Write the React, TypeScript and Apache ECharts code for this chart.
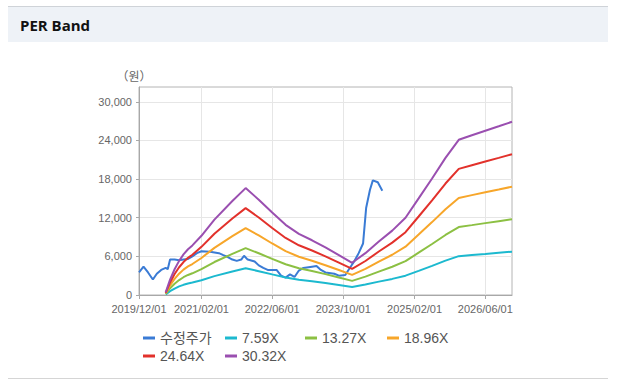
import React, { useEffect, useRef } from "react";
import * as echarts from "echarts";

// ---- data ----
const xTickLabels = ["2019/12/01", "2021/02/01", "2022/06/01", "2023/10/01", "2025/02/01", "2026/06/01"];
const xStart = "2019/12/01";
const xEnd = "2026/12/01";
const yTicks = [0, 6000, 12000, 18000, 24000, 30000];
const yMax = 32300;

const legendNames = ["수정주가", "7.59X", "13.27X", "18.96X", "24.64X", "30.32X"];
const seriesColors = ["#3a7bd5", "#1cb9cf", "#8cc043", "#f7a62a", "#e2312b", "#9a4fb0"];

const priceDates = [
  "2019/12/01", "2020/01/01", "2020/02/01", "2020/03/05", "2020/04/01", "2020/05/01", "2020/06/01", "2020/06/15",
  "2020/07/01", "2020/08/01", "2020/09/01", "2020/10/01", "2020/11/01", "2020/12/01", "2021/01/01", "2021/02/01",
  "2021/04/01", "2021/06/01", "2021/07/01", "2021/08/01", "2021/09/01", "2021/10/01", "2021/11/01", "2021/11/20",
  "2021/12/15", "2022/02/01", "2022/03/01", "2022/04/01", "2022/05/01", "2022/07/01", "2022/08/01", "2022/09/01",
  "2022/10/01", "2022/11/01", "2022/12/01", "2023/01/01", "2023/03/01", "2023/04/01", "2023/05/01", "2023/06/01",
  "2023/08/01", "2023/09/01", "2023/10/15", "2023/11/15", "2023/12/15", "2024/01/15", "2024/02/14", "2024/03/06",
  "2024/04/01", "2024/04/21", "2024/05/25", "2024/06/25",
];
const priceValues = [
  3500, 4400, 3500, 2400, 3300, 3900, 4200, 4000,
  5500, 5500, 5400, 5500, 5600, 6000, 6500, 6800,
  6700, 6500, 6200, 5900, 5500, 5300, 5500, 6100,
  5500, 5200, 4600, 4200, 3900, 3900, 3000, 2700,
  3200, 2800, 3800, 4200, 4400, 4500, 3900, 3500,
  3300, 3000, 3100, 4200, 5200, 6500, 8000, 13500,
  16300, 17800, 17500, 16200,
];

const bandDates = [
  "2020/06/01", "2020/07/01", "2020/08/01", "2020/09/01", "2020/10/01", "2020/11/01", "2020/12/01", "2021/02/01",
  "2021/05/01", "2021/09/01", "2021/12/01", "2022/03/01", "2022/06/01", "2022/09/01", "2022/12/01", "2023/03/01",
  "2023/06/01", "2023/09/01", "2023/12/01", "2024/03/01", "2024/06/01", "2024/09/01", "2024/12/01", "2025/03/01",
  "2025/06/01", "2025/09/01", "2025/12/01", "2026/03/01", "2026/06/01", "2026/09/01", "2026/12/01",
];
const band759 = [
  100, 600, 1000, 1330, 1580, 1780, 1930, 2300, 2930, 3650, 4150, 3700, 3200, 2730, 2380, 2130,
  1850, 1550, 1250, 1630, 2080, 2500, 3000, 3750, 4530, 5330, 6030, 6210, 6380, 6560, 6730,
];
const band1327 = [
  180, 1050, 1750, 2320, 2760, 3110, 3370, 4030, 5120, 6390, 7270, 6480, 5600, 4770, 4160, 3720,
  3240, 2710, 2190, 2850, 3630, 4380, 5250, 6570, 7920, 9320, 10550, 10850, 11160, 11470, 11770,
];
const band1896 = [
  250, 1500, 2500, 3310, 3940, 4440, 4810, 5750, 7320, 9130, 10380, 9250, 8000, 6820, 5940, 5320,
  4630, 3880, 3130, 4060, 5190, 6250, 7500, 9380, 11320, 13320, 15070, 15510, 15950, 16380, 16820,
];
const band2464 = [
  330, 1950, 3250, 4310, 5120, 5770, 6260, 7480, 9510, 11870, 13490, 12030, 10400, 8860, 7720, 6910,
  6010, 5040, 4060, 5280, 6750, 8130, 9750, 12190, 14710, 17310, 19590, 20150, 20720, 21290, 21860,
];
const band3032 = [
  400, 2400, 4000, 5300, 6300, 7100, 7700, 9200, 11700, 14600, 16600, 14800, 12800, 10900, 9500, 8500,
  7400, 6200, 5000, 6500, 8300, 10000, 12000, 15000, 18100, 21300, 24100, 24800, 25500, 26200, 26900,
];

// ---- helpers ----
function toTs(s: string): number {
  const [y, m, d] = s.split("/").map(Number);
  return new Date(y, m - 1, d).getTime();
}
function fmtDate(v: number): string {
  const d = new Date(v);
  const mm = String(d.getMonth() + 1).padStart(2, "0");
  const dd = String(d.getDate()).padStart(2, "0");
  return `${d.getFullYear()}/${mm}/${dd}`;
}
function pairs(dates: string[], vals: number[]) {
  return dates.map((d, i) => [toTs(d), vals[i]]);
}

const FONT = "'Liberation Sans', 'Noto Sans CJK KR', sans-serif";

export default function App() {
  const ref = useRef<HTMLDivElement>(null);
  useEffect(() => {
    if (!ref.current) return;
    const chart = echarts.init(ref.current, null, { renderer: "svg" });
    const xTicks = xTickLabels.map(toTs);
    const bandArrays = [band759, band1327, band1896, band2464, band3032];

    const series: any[] = [
      {
        name: legendNames[0],
        type: "line",
        data: pairs(priceDates, priceValues),
        showSymbol: false,
        symbol: "none",
        lineStyle: { width: 2, color: seriesColors[0] },
        itemStyle: { color: seriesColors[0] },
      },
      ...bandArrays.map((arr, i) => ({
        name: legendNames[i + 1],
        type: "line",
        data: pairs(bandDates, arr),
        showSymbol: false,
        symbol: "none",
        lineStyle: { width: 2, color: seriesColors[i + 1] },
        itemStyle: { color: seriesColors[i + 1] },
      })),
    ];

    const legendPos = [
      [143, 331],
      [225, 331],
      [305, 331],
      [387, 331],
      [143, 349],
      [225, 349],
    ];
    const legends = legendNames.map((n, i) => ({
      data: [n],
      left: legendPos[i][0],
      top: legendPos[i][1],
      padding: 0,
      icon: "rect",
      itemWidth: 12,
      itemHeight: 3,
      selectedMode: false,
      textStyle: { fontSize: 14, color: "#555", fontFamily: FONT },
    }));

    chart.setOption({
      animation: false,
      backgroundColor: "#ffffff",
      textStyle: { fontFamily: FONT },
      grid: {
        left: 139,
        top: 87,
        right: 109,
        bottom: 92,
        show: true,
        borderColor: "#b4b4b4",
        borderWidth: 1,
        outerBoundsMode: "none",
      },
      legend: legends,
      xAxis: {
        type: "value",
        min: toTs(xStart),
        max: toTs(xEnd),
        axisLine: { show: true, lineStyle: { color: "#a8a8a8" } },
        axisTick: { show: true, length: 4, customValues: xTicks, lineStyle: { color: "#a8a8a8" } },
        axisLabel: {
          customValues: xTicks,
          formatter: (v: number) => fmtDate(v),
          fontSize: 11,
          color: "#666",
          margin: 8,
          fontFamily: FONT,
        },
        splitLine: { show: true, lineStyle: { color: "#e6e6e6" } },
      },
      yAxis: {
        type: "value",
        min: 0,
        max: yMax,
        axisLine: { show: true, lineStyle: { color: "#a8a8a8" } },
        axisTick: { show: true, length: 3, customValues: yTicks, lineStyle: { color: "#a8a8a8" } },
        axisLabel: {
          customValues: yTicks,
          formatter: (v: number) => v.toLocaleString("en-US"),
          fontSize: 11,
          color: "#666",
          margin: 7,
          fontFamily: FONT,
        },
        splitLine: { show: true, lineStyle: { color: "#e6e6e6" } },
      },
      graphic: [
        { type: "rect", shape: { x: 8, y: 7, width: 600, height: 35 }, style: { fill: "#eef2f7" }, silent: true },
        { type: "line", shape: { x1: 8, y1: 6.5, x2: 608, y2: 6.5 }, style: { stroke: "#cfd3d8", lineWidth: 1 } },
        { type: "line", shape: { x1: 8, y1: 378.5, x2: 608, y2: 378.5 }, style: { stroke: "#d5d5d5", lineWidth: 1 } },
        {
          type: "text",
          x: 20,
          y: 25,
          style: {
            text: "PER Band",
            fontSize: 15,
            fontWeight: "bold",
            fill: "#111",
            fontFamily: "'Open Sans', 'Noto Sans', sans-serif",
            verticalAlign: "middle",
          },
        },
        {
          type: "text",
          x: 134,
          y: 75,
          style: {
            text: "（원）",
            fontSize: 12,
            fill: "#666",
            fontFamily: "'Noto Sans CJK KR', sans-serif",
            align: "center",
            verticalAlign: "middle",
          },
        },
      ],
      series,
    });
    return () => chart.dispose();
  }, []);
  return <div ref={ref} style={{ position: "absolute", left: 0, top: 0, width: 621, height: 387 }} />;
}
